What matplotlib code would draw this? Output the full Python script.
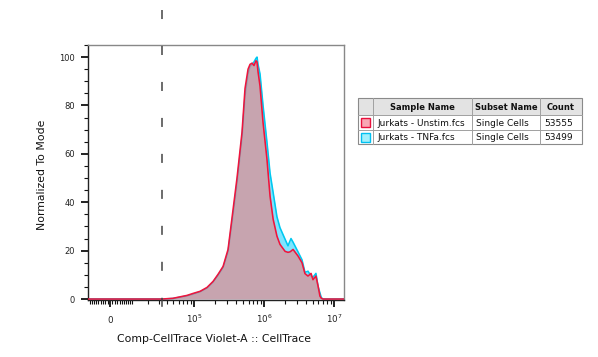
import numpy as np
import matplotlib
matplotlib.use("Agg")
import matplotlib.pyplot as plt
from matplotlib.patches import Rectangle
from matplotlib.ticker import FixedLocator, FixedFormatter, MultipleLocator

plt.rcParams['font.family'] = ['DejaVu Sans']
plt.rcParams['lines.scale_dashes'] = False

# ---------------- data ----------------
intensity = [-10000, 0, 33800, 49000, 79000, 96000, 122000, 153000, 187000,
             220000, 260000, 306000, 361000, 411000, 485000, 535000, 591000,
             631000, 674000, 719000, 768000, 794000, 821000, 877000, 968000,
             1100000, 1220000, 1350000, 1530000, 1690000, 2000000, 2200000,
             2350000, 2430000, 2600000, 3060000, 3490000, 3850000, 4250000,
             4700000, 5010000, 5520000, 5910000, 6300000, 6600000, 7000000,
             13900000]

unstim = [0, 0, 0, 0.3, 1.5, 2.3, 3.2, 4.8, 7.3,
          10.2, 13.5, 20.5, 37, 50, 69, 87, 95,
          97, 97.5, 96.5, 98.5, 98, 94, 88, 73,
          58, 42.5, 33, 26, 22.6, 19.7, 19.3,
          19.5, 19.8, 20.5, 17.8, 15, 10.5, 9.5,
          10.6, 8, 9.5, 5.5, 1.2, 0.3, 0,
          0]

tnfa = [0, 0, 0, 0.2, 1.3, 2.0, 3.0, 4.5, 7.0,
        9.8, 13, 19.5, 35, 48, 67, 84, 93,
        96, 97, 98, 99.5, 100, 97, 93, 80,
        65, 52, 44, 34, 29.5, 24.7, 22,
        24, 25, 23.5, 19.5, 16.2, 11, 11.5,
        9.5, 9, 10.6, 5.3, 2.5, 0.5, 0,
        0]

gate_x = 33800

x_major = [0, 1e5, 1e6, 1e7]
x_major_labels = ['0', r'$10^5$', r'$10^6$', r'$10^7$']

sample_names = ['Jurkats - Unstim.fcs', 'Jurkats - TNFa.fcs']
subset_names = ['Single Cells', 'Single Cells']
counts = ['53555', '53499']
headers = ['Sample Name', 'Subset Name', 'Count']

# ---------------- figure ----------------
W, H = 598, 357
fig = plt.figure(figsize=(W / 100, H / 100), dpi=100)
fig.patch.set_facecolor('white')

ax_l, ax_r, ax_t, ax_b = 88, 344, 45, 300
ax = fig.add_axes([ax_l / W, (H - ax_b) / H, (ax_r - ax_l) / W, (ax_b - ax_t) / H])

C = 12620.0
def fwd(v):
    return np.arcsinh(np.asarray(v, dtype=float) / C) / np.log(10)
def inv(p):
    return C * np.sinh(np.asarray(p, dtype=float) * np.log(10))

ax.set_xscale('function', functions=(fwd, inv))
ax.set_xlim(-10000, 13900000)
ax.set_ylim(-0.4, 105)

red_line = '#f0143c'
cyan_line = '#00c8f0'

ax.fill_between(intensity, 0, tnfa, color='#00ccff', alpha=0.5, lw=0, zorder=1)
ax.plot(intensity, tnfa, color=cyan_line, lw=1.15, zorder=2)
ax.fill_between(intensity, 0, unstim, color=(248/255, 122/255, 123/255), alpha=0.6, lw=0, zorder=3)
ax.plot(intensity, unstim, color=red_line, lw=1.15, zorder=4)

# dashed gate line extending above the plot
ax.plot([gate_x, gate_x], [(ax_b - 10) / (ax_b - ax_t), (ax_b - 307) / (ax_b - ax_t)],
        transform=ax.get_xaxis_transform(), color='#444444', lw=1.1,
        dashes=(6.5, 19.4), clip_on=False, zorder=5)

# ticks
minor = []
for k in range(3, 7):
    for m in range(1, 10):
        minor.append(m * 10 ** k)
for m in range(1, 10):
    minor.append(-m * 1000)
minor = [v for v in minor if -10000 <= v <= 13900000 and v not in x_major]

ax.xaxis.set_major_locator(FixedLocator(x_major))
ax.xaxis.set_major_formatter(FixedFormatter(x_major_labels))
ax.xaxis.set_minor_locator(FixedLocator(minor))
ax.yaxis.set_major_locator(MultipleLocator(20))
ax.yaxis.set_minor_locator(MultipleLocator(5))

ax.tick_params(axis='both', which='major', direction='out', length=4.7, width=1.3,
               color='#111111', labelsize=6, labelcolor='#222222')
ax.tick_params(axis='both', which='minor', direction='out', length=2.6, width=0.8,
               color='#111111')
ax.tick_params(axis='y', which='major', pad=4.5)
ax.tick_params(axis='x', which='major', pad=11.9, labelsize=6.3)
for lab in ax.get_xticklabels():
    lab.set_verticalalignment('baseline')

for s in ['top', 'right']:
    ax.spines[s].set_color('#888888')
    ax.spines[s].set_linewidth(1.0)
for s in ['left', 'bottom']:
    ax.spines[s].set_color('#222222')
    ax.spines[s].set_linewidth(1.0)

ax.set_xlabel('Comp-CellTrace Violet-A :: CellTrace', fontsize=7.8, color='#111111')
ax.set_ylabel('Normalized To Mode', fontsize=7.8, color='#111111')
ax.xaxis.set_label_coords(0.494, -0.135)
ax.yaxis.set_label_coords(-0.162, 0.49)

# ---------------- legend table (pixel overlay) ----------------
ov = fig.add_axes([0, 0, 1, 1], zorder=10)
ov.set_xlim(0, W)
ov.set_ylim(H, 0)
ov.axis('off')
ov.patch.set_alpha(0)

tx0, tx1 = 358, 582
ty0, ty_h, ty_r1, ty1 = 98, 115, 130, 144
cols = [358, 373, 472, 540, 582]

ov.add_patch(Rectangle((tx0, ty0), tx1 - tx0, ty_h - ty0, facecolor='#e3e3e3',
                       edgecolor='none'))
ov.add_patch(Rectangle((tx0, ty0), tx1 - tx0, ty1 - ty0, facecolor='none',
                       edgecolor='#8a8a8a', lw=0.8))
for yy in [ty_h, ty_r1]:
    ov.plot([tx0, tx1], [yy, yy], color='#a0a0a0', lw=0.7)
for xx in cols[1:-1]:
    ov.plot([xx, xx], [ty0, ty1], color='#a0a0a0', lw=0.7)

for i, h in enumerate(headers):
    ov.text((cols[i + 1] + cols[i + 2]) / 2, (ty0 + ty_h) / 2 + 0.5, h,
            ha='center', va='center', fontsize=6, fontweight='bold', color='#111111')

row_y = [(ty_h + ty_r1) / 2, (ty_r1 + ty1) / 2]
sw_face = ['#f8a8b4', '#a0f0fc']
sw_edge = ['#e8103c', '#00c0f0']
for r in range(2):
    ov.add_patch(Rectangle((361, row_y[r] - 4.5), 9, 9, facecolor=sw_face[r],
                           edgecolor=sw_edge[r], lw=1.0))
    ov.text(cols[1] + 4, row_y[r] + 0.5, sample_names[r], ha='left', va='center',
            fontsize=6.5, color='#111111')
    ov.text(cols[2] + 4, row_y[r] + 0.5, subset_names[r], ha='left', va='center',
            fontsize=6.5, color='#111111')
    ov.text(cols[3] + 4, row_y[r] + 0.5, counts[r], ha='left', va='center',
            fontsize=6.5, color='#111111')

fig.savefig('out.png', dpi=100, facecolor='white')
